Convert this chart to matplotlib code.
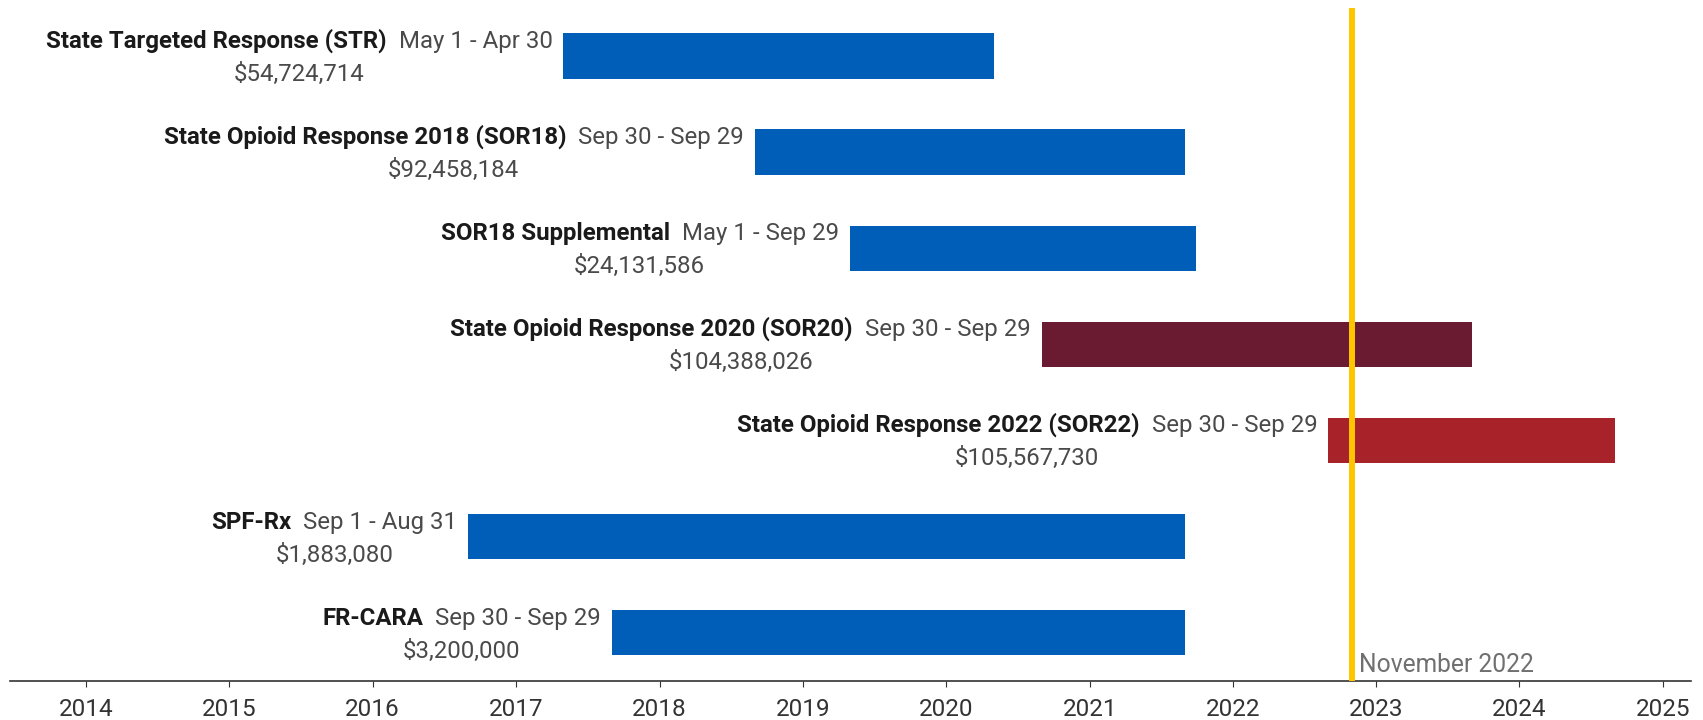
import matplotlib
matplotlib.use('Agg')
import matplotlib.pyplot as plt
import matplotlib.dates as mdates
from matplotlib.transforms import Bbox
import pandas as pd

# grants, top to bottom
names = ['State Targeted Response (STR)', 'State Opioid Response 2018 (SOR18)',
         'SOR18 Supplemental', 'State Opioid Response 2020 (SOR20)',
         'State Opioid Response 2022 (SOR22)', 'SPF-Rx', 'FR-CARA']
periods = ['May 1 - Apr 30', 'Sep 30 - Sep 29', 'May 1 - Sep 29', 'Sep 30 - Sep 29',
           'Sep 30 - Sep 29', 'Sep 1 - Aug 31', 'Sep 30 - Sep 29']
amounts = ['$54,724,714', '$92,458,184', '$24,131,586', '$104,388,026',
           '$105,567,730', '$1,883,080', '$3,200,000']
starts = pd.to_datetime(['2017-05-01', '2018-09-01', '2019-05-01', '2020-09-01',
                         '2022-09-01', '2016-09-01', '2017-09-01'])
ends = pd.to_datetime(['2020-05-01', '2021-09-01', '2021-09-29', '2023-09-01',
                       '2024-09-01', '2021-09-01', '2021-09-01'])
status = ['past', 'past', 'past', 'current', 'new', 'past', 'past']
today = pd.Timestamp('2022-11-01')
today_label = 'November 2022'

status_colors = {'past': '#005EB8', 'current': '#6A1B31', 'new': '#A8222A'}

plt.rcParams['font.family'] = 'Roboto'

fig = plt.figure(figsize=(17.03, 7.2), dpi=100)
ax = fig.add_axes([10 / 1703, 39.3 / 720, 1681 / 1703, 672.7 / 720])

left = mdates.date2num(starts)
width = mdates.date2num(ends) - left
rows = list(range(len(names)))
ax.barh(rows, width, left=left, height=0.473,
        color=[status_colors[s] for s in status], zorder=2)

ax.axvline(today, color='#FFC500', lw=4.3, zorder=3)
ax.annotate(today_label, xy=(today, 0), xycoords=('data', 'axes fraction'),
            xytext=(7, 9), textcoords='offset pixels', ha='left', va='baseline',
            fontsize=17.7, color='#707070')

fs = 17.3
for i in rows:
    date_t = ax.annotate(periods[i], xy=(left[i], i), xytext=(-11, 8),
                         textcoords='offset pixels', ha='right', va='baseline',
                         fontsize=fs, color='#4a4a4a')
    name_t = ax.annotate(names[i], xy=(0, 0), xycoords=date_t, xytext=(-12, 0),
                         textcoords='offset pixels', ha='right', va='bottom',
                         fontsize=fs, fontweight='bold', color='#1a1a1a')
    line_box = lambda r, a=name_t, b=date_t: Bbox.union(
        [a.get_window_extent(r), b.get_window_extent(r)])
    ax.annotate(amounts[i], xy=(0.5, 0), xycoords=line_box, xytext=(0, -28),
                textcoords='offset pixels', ha='center', va='baseline',
                fontsize=fs, color='#4a4a4a')

ax.set_ylim(6.5, -0.5)
ax.set_xlim(pd.Timestamp('2013-06-21'), pd.Timestamp('2025-03-13'))
ax.xaxis.set_major_locator(mdates.YearLocator())
ax.xaxis.set_major_formatter(mdates.DateFormatter('%Y'))
ax.tick_params(axis='x', labelsize=17.5, labelcolor='#333333', length=4.3,
               width=0.8, color='#333333', pad=8)
ax.set_yticks([])
for side in ['top', 'right', 'left']:
    ax.spines[side].set_visible(False)
ax.spines['bottom'].set_color('#333333')
ax.spines['bottom'].set_linewidth(1.2)

fig.savefig('out.png', dpi=100)
